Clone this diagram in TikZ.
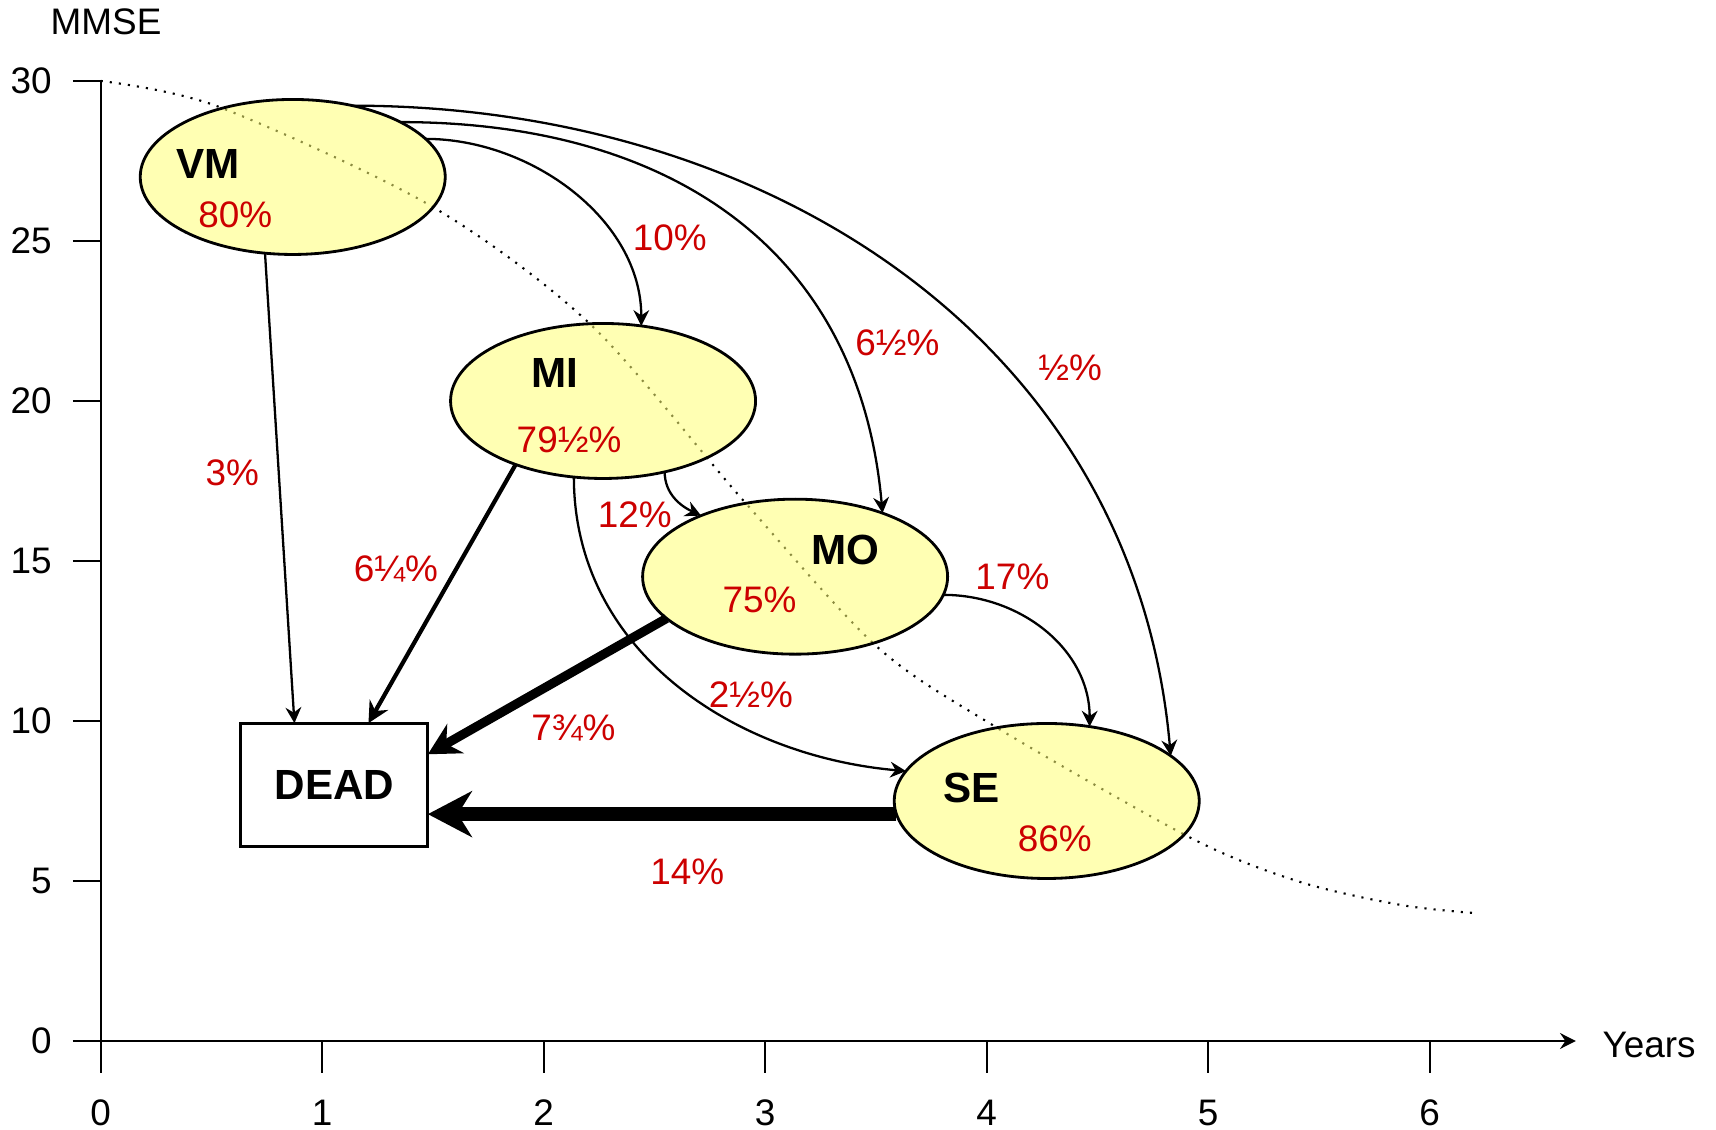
\documentclass[tikz,border=0pt]{standalone}
\usepackage{fontspec}
\setmainfont{Liberation Sans}
\usepackage{tikz}
\usetikzlibrary{arrows.meta}
\usetikzlibrary{calc}
\usetikzlibrary{shapes.geometric}

\definecolor{stateyellow}{RGB}{255,255,117}
\definecolor{pctred}{RGB}{204,0,0}

\tikzset{
  state/.style={ellipse, draw, line width=0.8pt, fill=stateyellow, fill opacity=0.55,
    minimum width=3.05cm, minimum height=1.55cm, inner sep=0pt, outer sep=0pt},
  deadbox/.style={rectangle, draw, line width=0.8pt, minimum width=1.87cm,
    minimum height=1.23cm, inner sep=0pt, outer sep=0pt,
    font=\fontsize{12}{14}\selectfont\bfseries},
  statename/.style={font=\fontsize{12}{14}\selectfont\bfseries, inner sep=0pt},
  pct/.style={text=pctred, font=\fontsize{10.5}{12}\selectfont, inner sep=0pt},
  ticklabel/.style={font=\fontsize{10.5}{12}\selectfont, inner sep=0pt},
  thinarrow/.style={line width=0.65pt, -{Stealth[length=4.5pt,width=4.5pt,inset=1.5pt]}},
  midarrow/.style={line width=1.2pt, -{Stealth[length=6pt,width=6pt,inset=2pt]}},
  thickarrow/.style={line width=2.6pt, -{Stealth[length=9pt,width=9.5pt,inset=3pt]}},
  heavyarrow/.style={line width=4pt, -{Stealth[length=12.5pt,width=13pt,inset=4pt]}}
}

\begin{document}
\begin{tikzpicture}[x=2.215cm, y=0.32cm]
  \useasboundingbox (-0.4546,-2.78) rectangle (7.2925,32.53);

  % axes
  \draw[line width=0.6pt] (0,30) -- (0,-1);
  \draw[line width=0.6pt, -{Stealth[length=4.5pt,width=4.5pt,inset=1.5pt]}] (-0.126,0) -- (6.66,0);
  \foreach \y in {0,5,...,30} {
    \draw[line width=0.6pt] (-0.126,\y) -- (0,\y);
    \node[ticklabel, anchor=east] at (-0.218,\y) {\y};
  }
  \foreach \x in {1,...,6}
    \draw[line width=0.6pt] (\x,0) -- (\x,-1);
  \foreach \x in {0,...,6}
    \node[ticklabel] at (\x,-2.25) {\x};
  \node[ticklabel] (mmse) at (0.024,31.84) {MMSE};
  \node[ticklabel] (years) at (6.99,-0.125) {Years};

  % expected decline
  \draw[dotted, line width=0.6pt] plot[smooth] coordinates {(0,30) (0.53,29.2) (1.49,26.1)
    (2.21,22.4) (2.9,16.9) (3.5,12.35) (4.02,9.9) (4.92,6.35) (5.41,4.98) (5.87,4.25) (6.2,4.0)};

  % states
  \node[state] (VM) at (0.867,27) {};
  \node[state] (MI) at (2.268,20) {};
  \node[state] (MO) at (3.135,14.51) {};
  \node[state] (SE) at (4.271,7.5) {};
  \node[deadbox] (DEAD) at (1.055,8.01) {DEAD};

  \node[statename] (VMname) at ($(VM)+(-0.85cm,0.13cm)$) {VM};
  \node[pct] (VMstay) at ($(VM)+(-0.575cm,-0.38cm)$) {80\%};
  \node[statename] (MIname) at ($(MI)+(-0.48cm,0.28cm)$) {MI};
  \node[pct] (MIstay) at ($(MI)+(-0.34cm,-0.39cm)$) {79½\%};
  \node[statename] (MOname) at ($(MO)+(0.50cm,0.27cm)$) {MO};
  \node[pct] (MOstay) at ($(MO)+(-0.355cm,-0.23cm)$) {75\%};
  \node[statename] (SEname) at ($(SE)+(-0.75cm,0.13cm)$) {SE};
  \node[pct] (SEstay) at ($(SE)+(0.08cm,-0.38cm)$) {86\%};

  % transitions
  \draw[thinarrow] (VM.250) -- (DEAD.123);
  \draw[midarrow] (MI.216) -- (DEAD.61);
  \draw[thickarrow] (MO.198) -- (DEAD.18);
  \draw[heavyarrow] (SE.185) -- (SE.185 -| DEAD.east);
  \draw[thinarrow] (VM.16) to[out=0,in=90,looseness=0.95] (MI.63);
  \draw[thinarrow] (VM.27) to[out=0,in=95,looseness=1.1] (MO.36);
  \draw[thinarrow] (VM.50) to[out=0,in=95,looseness=1.02] (SE.20);
  \draw[thinarrow] (MI.311) to[out=-90,in=155] (MO.147);
  \draw[thinarrow] (MI.249) to[out=-90,in=175] (SE.168);
  \draw[thinarrow] (MO.-7) to[out=0,in=90] (SE.60);

  % transition rates
  \node[pct] (VMtoDEAD) at (0.594,17.76) {3\%};
  \node[pct] (MItoDEAD) at (1.333,14.75) {6¼\%};
  \node[pct] (MOtoDEAD) at (2.134,9.79) {7¾\%};
  \node[pct] (SEtoDEAD) at (2.648,5.28) {14\%};
  \node[pct] (VMtoMI) at (2.569,25.1) {10\%};
  \node[pct] (VMtoMO) at (3.597,21.83) {6½\%};
  \node[pct] (VMtoSE) at (4.377,21.04) {½\%};
  \node[pct] (MItoMO) at (2.411,16.45) {12\%};
  \node[pct] (MItoSE) at (2.935,10.81) {2½\%};
  \node[pct] (MOtoSE) at (4.116,14.51) {17\%};
\end{tikzpicture}
\end{document}
